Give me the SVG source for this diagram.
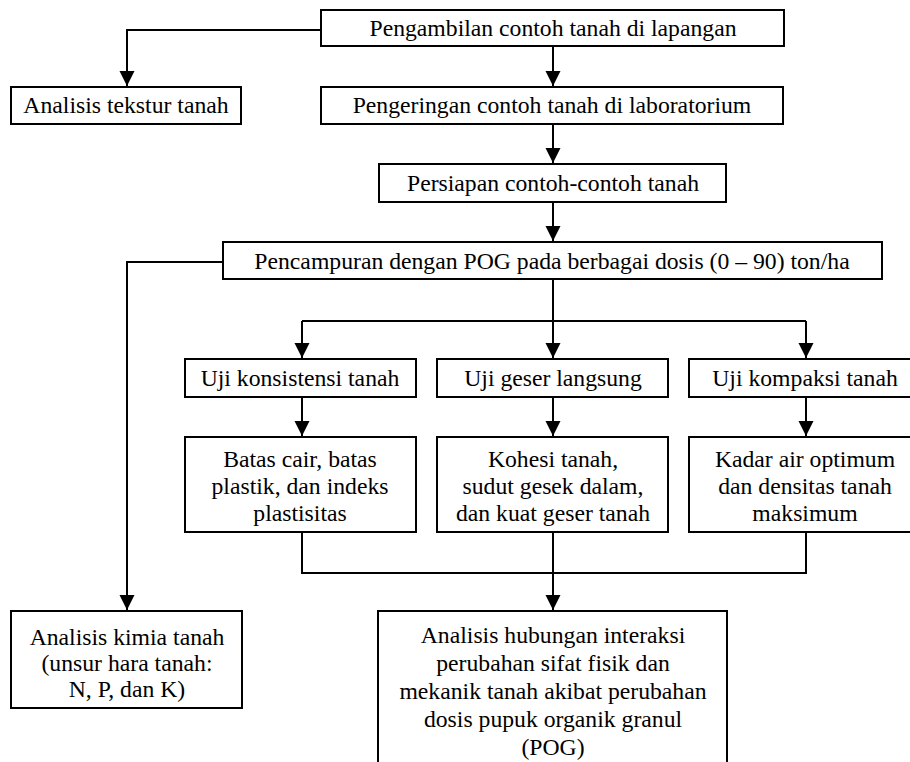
<svg xmlns="http://www.w3.org/2000/svg" width="910" height="762" viewBox="0 0 910 762">
<defs>
<style>
.box{fill:#fff;stroke:#000;stroke-width:2}
.t{font-family:'Liberation Serif',serif;font-size:23.7px;fill:#000;text-anchor:middle}
.c{fill:none;stroke:#000;stroke-width:2}
</style>
<marker id="ah" viewBox="0 -8 16 16" refX="15" refY="0" markerWidth="16" markerHeight="16" markerUnits="userSpaceOnUse" orient="auto">
<path d="M0,-7.5 L15,0 L0,7.5 z" fill="#000"/>
</marker>
</defs>
<rect width="910" height="762" fill="#fff"/>
<g id="connectors">
<path class="c" d="M321,30 H127 V86" marker-end="url(#ah)"/>
<path class="c" d="M553,46 V86" marker-end="url(#ah)"/>
<path class="c" d="M553,124 V163" marker-end="url(#ah)"/>
<path class="c" d="M553,202 V241" marker-end="url(#ah)"/>
<path class="c" d="M223,262 H127 V610" marker-end="url(#ah)"/>
<path class="c" d="M553,279 V358" marker-end="url(#ah)"/>
<path class="c" d="M302,321 H806"/>
<path class="c" d="M302,321 V358" marker-end="url(#ah)"/>
<path class="c" d="M806,321 V358" marker-end="url(#ah)"/>
<path class="c" d="M302,397 V436" marker-end="url(#ah)"/>
<path class="c" d="M553,397 V436" marker-end="url(#ah)"/>
<path class="c" d="M806,397 V436" marker-end="url(#ah)"/>
<path class="c" d="M302,532 V573 H806 V532"/>
<path class="c" d="M553,532 V610" marker-end="url(#ah)"/>
</g>
<g id="n1"><rect class="box" x="321" y="10" width="463" height="36"/><text class="t" x="553" y="36">Pengambilan contoh tanah di lapangan</text></g>
<g id="n2"><rect class="box" x="11" y="87" width="230" height="37"/><text class="t" x="126" y="113">Analisis tekstur tanah</text></g>
<g id="n3"><rect class="box" x="321" y="87" width="462" height="37"/><text class="t" x="552" y="113">Pengeringan contoh tanah di laboratorium</text></g>
<g id="n4"><rect class="box" x="379" y="164" width="347" height="38"/><text class="t" x="553" y="191">Persiapan contoh-contoh tanah</text></g>
<g id="n5"><rect class="box" x="223" y="242" width="659" height="37"/><text class="t" x="552" y="269">Pencampuran dengan POG pada berbagai dosis (0 – 90) ton/ha</text></g>
<g id="n6"><rect class="box" x="185" y="359" width="231" height="38"/><text class="t" x="300" y="386">Uji konsistensi tanah</text></g>
<g id="n7"><rect class="box" x="437" y="359" width="231" height="38"/><text class="t" x="553" y="386">Uji geser langsung</text></g>
<g id="n8"><rect class="box" x="689" y="359" width="230" height="38"/><text class="t" x="805" y="386">Uji kompaksi tanah</text></g>
<g id="n9"><rect class="box" x="185" y="437" width="231" height="95"/><text class="t" x="300" y="467">Batas cair, batas</text><text class="t" x="300" y="494">plastik, dan indeks</text><text class="t" x="300" y="521">plastisitas</text></g>
<g id="n10"><rect class="box" x="437" y="437" width="231" height="95"/><text class="t" x="553" y="467">Kohesi tanah,</text><text class="t" x="553" y="494">sudut gesek dalam,</text><text class="t" x="553" y="521">dan kuat geser tanah</text></g>
<g id="n11"><rect class="box" x="689" y="437" width="230" height="95"/><text class="t" x="805" y="467">Kadar air optimum</text><text class="t" x="805" y="494">dan densitas tanah</text><text class="t" x="805" y="521">maksimum</text></g>
<g id="n12"><rect class="box" x="11" y="611" width="231" height="97"/><text class="t" x="127" y="645">Analisis kimia tanah</text><text class="t" x="127" y="671">(unsur hara tanah:</text><text class="t" x="127" y="697">N, P, dan K)</text></g>
<g id="n13"><rect class="box" x="378" y="611" width="349" height="170"/><text class="t" x="553" y="643">Analisis hubungan interaksi</text><text class="t" x="553" y="671">perubahan sifat fisik dan</text><text class="t" x="553" y="699">mekanik tanah akibat perubahan</text><text class="t" x="553" y="727">dosis pupuk organik granul</text><text class="t" x="553" y="755">(POG)</text></g>
</svg>
